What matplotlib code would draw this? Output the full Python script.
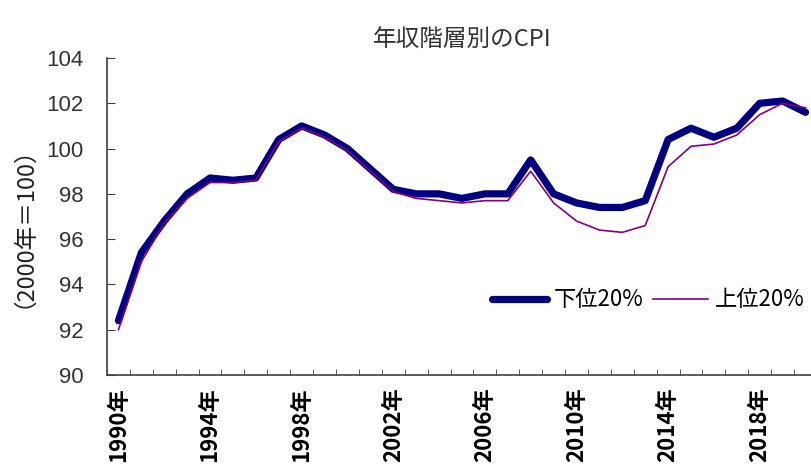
import numpy as np
import matplotlib
matplotlib.use('Agg')
import matplotlib.pyplot as plt

plt.rcParams['font.family'] = ['Noto Sans CJK JP', 'DejaVu Sans']

years = np.arange(1990, 2021)
lower20 = [92.4, 95.4, 96.8, 98.0, 98.7, 98.6, 98.7, 100.4, 101.0, 100.6,
           100.0, 99.1, 98.2, 98.0, 98.0, 97.8, 98.0, 98.0, 99.5, 98.0,
           97.6, 97.4, 97.4, 97.7, 100.4, 100.9, 100.5, 100.9, 102.0, 102.1,
           101.6]
upper20 = [92.0, 95.0, 96.7, 97.8, 98.5, 98.5, 98.6, 100.3, 100.9, 100.5,
           99.9, 99.0, 98.1, 97.8, 97.7, 97.6, 97.7, 97.7, 99.0, 97.6,
           96.8, 96.4, 96.3, 96.6, 99.2, 100.1, 100.2, 100.6, 101.5, 102.0,
           101.8]
tick_years = [1990, 1994, 1998, 2002, 2006, 2010, 2014, 2018]

x = np.arange(len(years))

fig = plt.figure(figsize=(8.11, 4.70), dpi=100)
ax = fig.add_axes([0.1319, 0.2021, 0.8755, 0.6745])

ax.plot(x, lower20, color='#000080', linewidth=5.2, solid_capstyle='round',
        solid_joinstyle='round', label='下位20%')
ax.plot(x, upper20, color='#800080', linewidth=1.2, label='上位20%')

ax.set_xlim(-0.5, len(years) - 0.5)
ax.set_ylim(90, 104)
ax.set_yticks(np.arange(90, 105, 2))
for lab in ax.get_yticklabels():
    lab.set_family(['Liberation Sans', 'DejaVu Sans'])

ax.set_xticks([list(years).index(y) for y in tick_years])
ax.set_xticklabels([f'{y}年' for y in tick_years], rotation=90,
                   fontsize=16, fontweight='bold', va='top')
ax.set_xticks(np.arange(-0.5, len(years), 1), minor=True)
ax.tick_params(axis='x', which='major', length=0, pad=9)
ax.tick_params(axis='x', which='minor', direction='in', length=4,
               color='#404040')
ax.tick_params(axis='y', direction='in', length=5.5, pad=17,
               labelsize=16, color='#404040', labelcolor='#333333')

for s in ['top', 'right']:
    ax.spines[s].set_visible(False)
for s in ['left', 'bottom']:
    ax.spines[s].set_color('#404040')
    ax.spines[s].set_linewidth(1.2)

ax.set_title('年収階層別のCPI', fontsize=17, color='#333333', pad=8)
fig.text(0.014, 0.543, '（2000年＝100）', rotation=90, fontsize=17,
         color='#222222', ha='center', va='center')

ax.legend(loc='center left', bbox_to_anchor=(0.542, 0.237), ncol=2,
          frameon=False, fontsize=16, handlelength=2.5, handletextpad=0.3,
          columnspacing=0.4, borderpad=0, borderaxespad=0)

fig.savefig('out.png', dpi=100)
